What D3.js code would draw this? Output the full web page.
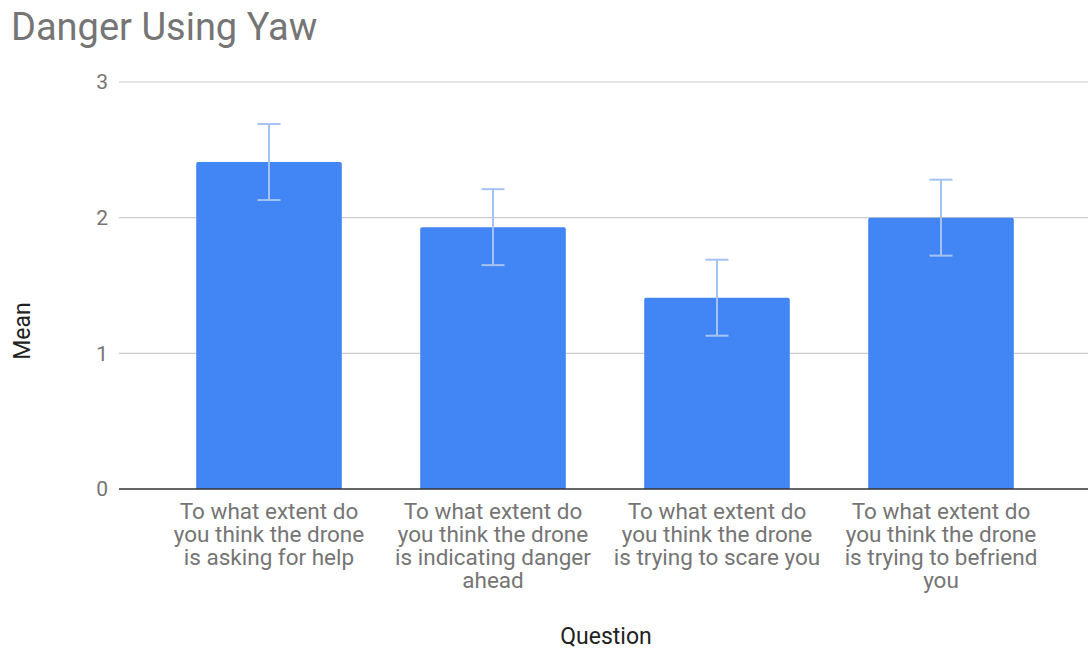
<!DOCTYPE html>
<html><head><meta charset="utf-8">
<script src="https://cdn.jsdelivr.net/npm/d3@7"></script>
<style>body{margin:0;background:#fff;font-family:Roboto,sans-serif}</style>
</head><body><svg id="c" width="1088" height="650"></svg>
<script>
const categories = [
  ["To what extent do","you think the drone","is asking for help"],
  ["To what extent do","you think the drone","is indicating danger","ahead"],
  ["To what extent do","you think the drone","is trying to scare you"],
  ["To what extent do","you think the drone","is trying to befriend","you"]
];
const means = [2.41, 1.93, 1.41, 2.00];
const errors = [0.28, 0.28, 0.28, 0.28];
const yTicks = [0, 1, 2, 3];

const svg = d3.select("#c");
const W = 1088, H = 650;
const x = d3.scaleBand().domain(d3.range(categories.length)).range([157, 1053]).paddingInner(0.35).paddingOuter(0.175);
const y = d3.scaleLinear().domain([0, 3]).range([489, 82]);

svg.append("text").attr("x", 11).attr("y", 40).attr("font-size", 38).attr("fill", "#757575").text("Danger Using Yaw");

// gridlines
svg.append("g").selectAll("line").data(yTicks.filter(d => d > 0)).join("line")
  .attr("x1", 119).attr("x2", W).attr("y1", d => y(d)).attr("y2", d => y(d))
  .attr("stroke", "#cccccc").attr("stroke-width", 1.2);

// y tick labels
svg.append("g").selectAll("text").data(yTicks).join("text")
  .attr("x", 108).attr("y", d => y(d)).attr("dy", "0.35em").attr("text-anchor", "end")
  .attr("font-size", 21).attr("fill", "#757575").text(d => d);

// bars
svg.append("g").selectAll("path").data(means).join("path")
  .attr("fill", "#4285f4")
  .attr("d", (d, i) => {
    const x0 = x(i), w = x.bandwidth(), t = y(d), b = y(0), r = 2;
    return `M${x0},${b}V${t + r}Q${x0},${t} ${x0 + r},${t}H${x0 + w - r}Q${x0 + w},${t} ${x0 + w},${t + r}V${b}Z`;
  });

// axis baseline
svg.append("line").attr("x1", 119).attr("x2", W).attr("y1", y(0)).attr("y2", y(0)).attr("stroke", "#333").attr("stroke-width", 1.5);

// error bars
const eg = svg.append("g").attr("stroke", "#a4c2f4").attr("stroke-width", 2).attr("fill", "none");
means.forEach((m, i) => {
  const cx = x(i) + x.bandwidth() / 2, hi = y(m + errors[i]), lo = y(m - errors[i]);
  eg.append("line").attr("x1", cx).attr("x2", cx).attr("y1", hi).attr("y2", lo);
  eg.append("line").attr("x1", cx - 11.5).attr("x2", cx + 11.5).attr("y1", hi).attr("y2", hi);
  eg.append("line").attr("x1", cx - 11.5).attr("x2", cx + 11.5).attr("y1", lo).attr("y2", lo);
});

// category labels
const cg = svg.append("g");
categories.forEach((lines, i) => {
  const cx = x(i) + x.bandwidth() / 2;
  const t = cg.append("text").attr("text-anchor", "middle").attr("font-size", 22.5).attr("fill", "#757575");
  lines.forEach((l, j) => t.append("tspan").attr("x", cx).attr("y", 519 + j * 23).text(l));
});

// axis titles
svg.append("text").attr("x", 606).attr("y", 644).attr("text-anchor", "middle").attr("font-size", 23).attr("fill", "#222").text("Question");
svg.append("text").attr("transform", "translate(30,331) rotate(-90)").attr("text-anchor", "middle").attr("font-size", 23).attr("fill", "#222").text("Mean");
</script></body></html>
